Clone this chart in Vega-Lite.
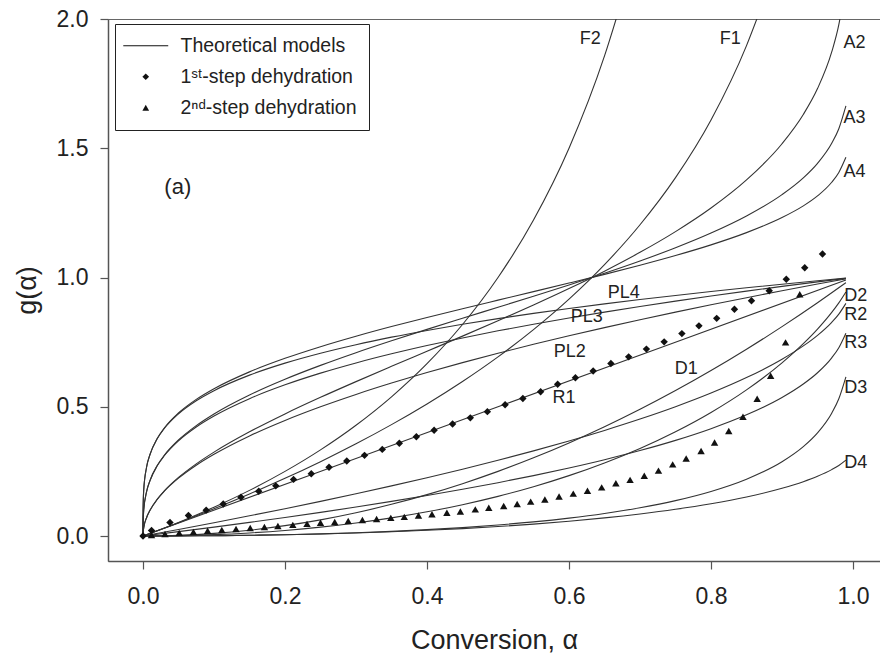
{
  "$schema": "https://vega.github.io/schema/vega-lite/v6.json",
  "width": 772,
  "height": 542,
  "autosize": "none",
  "padding": {"left": 108, "top": 19, "right": 0, "bottom": 93},
  "background": "white",
  "config": {
    "view": {"stroke": "#666", "strokeWidth": 1},
    "font": "Liberation Sans",
    "axis": {
      "labelFont": "Liberation Sans", "titleFont": "Liberation Sans",
      "labelColor": "#222", "titleColor": "#222",
      "domainColor": "#555", "domainWidth": 1.5,
      "tickColor": "#555", "tickWidth": 1.2, "tickSize": 8,
      "grid": false, "labelFontSize": 23, "titleFontWeight": "normal"
    }
  },
  "datasets": {
    "curves": [
      {"m":"F1","a":0,"g":0},{"m":"F1","a":0.05,"g":0.0513},{"m":"F1","a":0.1,"g":0.1054},{"m":"F1","a":0.15,"g":0.1625},{"m":"F1","a":0.2,"g":0.2231},{"m":"F1","a":0.25,"g":0.2877},{"m":"F1","a":0.3,"g":0.3567},{"m":"F1","a":0.35,"g":0.4308},{"m":"F1","a":0.4,"g":0.5108},{"m":"F1","a":0.45,"g":0.5978},{"m":"F1","a":0.5,"g":0.6931},{"m":"F1","a":0.55,"g":0.7985},{"m":"F1","a":0.6,"g":0.9163},{"m":"F1","a":0.65,"g":1.0498},{"m":"F1","a":0.7,"g":1.204},{"m":"F1","a":0.75,"g":1.3863},{"m":"F1","a":0.8,"g":1.6094},{"m":"F1","a":0.85,"g":1.8971},{"m":"F1","a":0.87,"g":2.0402},
      {"m":"F2","a":0,"g":0},{"m":"F2","a":0.05,"g":0.0526},{"m":"F2","a":0.1,"g":0.1111},{"m":"F2","a":0.15,"g":0.1765},{"m":"F2","a":0.2,"g":0.25},{"m":"F2","a":0.25,"g":0.3333},{"m":"F2","a":0.3,"g":0.4286},{"m":"F2","a":0.35,"g":0.5385},{"m":"F2","a":0.4,"g":0.6667},{"m":"F2","a":0.45,"g":0.8182},{"m":"F2","a":0.5,"g":1.0},{"m":"F2","a":0.55,"g":1.2222},{"m":"F2","a":0.6,"g":1.5},{"m":"F2","a":0.65,"g":1.8571},{"m":"F2","a":0.68,"g":2.125},
      {"m":"A2","a":0,"g":0},{"m":"A2","a":0.0001,"g":0.01},{"m":"A2","a":0.001,"g":0.0316},{"m":"A2","a":0.005,"g":0.0708},{"m":"A2","a":0.01,"g":0.1003},{"m":"A2","a":0.02,"g":0.1421},{"m":"A2","a":0.03,"g":0.1745},{"m":"A2","a":0.05,"g":0.2265},{"m":"A2","a":0.075,"g":0.2792},{"m":"A2","a":0.1,"g":0.3246},{"m":"A2","a":0.15,"g":0.4031},{"m":"A2","a":0.2,"g":0.4724},{"m":"A2","a":0.25,"g":0.5364},{"m":"A2","a":0.3,"g":0.5972},{"m":"A2","a":0.35,"g":0.6563},{"m":"A2","a":0.4,"g":0.7147},{"m":"A2","a":0.45,"g":0.7732},{"m":"A2","a":0.5,"g":0.8326},{"m":"A2","a":0.55,"g":0.8936},{"m":"A2","a":0.6,"g":0.9572},{"m":"A2","a":0.65,"g":1.0246},{"m":"A2","a":0.7,"g":1.0973},{"m":"A2","a":0.75,"g":1.1774},{"m":"A2","a":0.8,"g":1.2686},{"m":"A2","a":0.85,"g":1.3774},{"m":"A2","a":0.9,"g":1.5174},{"m":"A2","a":0.93,"g":1.6307},{"m":"A2","a":0.95,"g":1.7308},{"m":"A2","a":0.97,"g":1.8726},{"m":"A2","a":0.98,"g":1.9779},{"m":"A2","a":0.99,"g":2.146},
      {"m":"A3","a":0,"g":0},{"m":"A3","a":0.0001,"g":0.0464},{"m":"A3","a":0.001,"g":0.1},{"m":"A3","a":0.005,"g":0.1712},{"m":"A3","a":0.01,"g":0.2158},{"m":"A3","a":0.02,"g":0.2724},{"m":"A3","a":0.03,"g":0.3123},{"m":"A3","a":0.05,"g":0.3716},{"m":"A3","a":0.075,"g":0.4272},{"m":"A3","a":0.1,"g":0.4723},{"m":"A3","a":0.15,"g":0.5457},{"m":"A3","a":0.2,"g":0.6065},{"m":"A3","a":0.25,"g":0.6601},{"m":"A3","a":0.3,"g":0.7092},{"m":"A3","a":0.35,"g":0.7552},{"m":"A3","a":0.4,"g":0.7994},{"m":"A3","a":0.45,"g":0.8424},{"m":"A3","a":0.5,"g":0.885},{"m":"A3","a":0.55,"g":0.9277},{"m":"A3","a":0.6,"g":0.9713},{"m":"A3","a":0.65,"g":1.0163},{"m":"A3","a":0.7,"g":1.0638},{"m":"A3","a":0.75,"g":1.115},{"m":"A3","a":0.8,"g":1.1719},{"m":"A3","a":0.85,"g":1.2379},{"m":"A3","a":0.9,"g":1.3205},{"m":"A3","a":0.93,"g":1.3854},{"m":"A3","a":0.95,"g":1.4416},{"m":"A3","a":0.97,"g":1.5192},{"m":"A3","a":0.98,"g":1.5757},{"m":"A3","a":0.99,"g":1.6637},
      {"m":"A4","a":0,"g":0},{"m":"A4","a":0.0001,"g":0.1},{"m":"A4","a":0.001,"g":0.1779},{"m":"A4","a":0.005,"g":0.2661},{"m":"A4","a":0.01,"g":0.3166},{"m":"A4","a":0.02,"g":0.377},{"m":"A4","a":0.03,"g":0.4178},{"m":"A4","a":0.05,"g":0.4759},{"m":"A4","a":0.075,"g":0.5284},{"m":"A4","a":0.1,"g":0.5697},{"m":"A4","a":0.15,"g":0.6349},{"m":"A4","a":0.2,"g":0.6873},{"m":"A4","a":0.25,"g":0.7324},{"m":"A4","a":0.3,"g":0.7728},{"m":"A4","a":0.35,"g":0.8102},{"m":"A4","a":0.4,"g":0.8454},{"m":"A4","a":0.45,"g":0.8793},{"m":"A4","a":0.5,"g":0.9124},{"m":"A4","a":0.55,"g":0.9453},{"m":"A4","a":0.6,"g":0.9784},{"m":"A4","a":0.65,"g":1.0122},{"m":"A4","a":0.7,"g":1.0475},{"m":"A4","a":0.75,"g":1.0851},{"m":"A4","a":0.8,"g":1.1263},{"m":"A4","a":0.85,"g":1.1736},{"m":"A4","a":0.9,"g":1.2318},{"m":"A4","a":0.93,"g":1.277},{"m":"A4","a":0.95,"g":1.3156},{"m":"A4","a":0.97,"g":1.3684},{"m":"A4","a":0.98,"g":1.4064},{"m":"A4","a":0.99,"g":1.4649},
      {"m":"PL2","a":0,"g":0},{"m":"PL2","a":0.0001,"g":0.01},{"m":"PL2","a":0.001,"g":0.0316},{"m":"PL2","a":0.005,"g":0.0707},{"m":"PL2","a":0.01,"g":0.1},{"m":"PL2","a":0.02,"g":0.1414},{"m":"PL2","a":0.03,"g":0.1732},{"m":"PL2","a":0.05,"g":0.2236},{"m":"PL2","a":0.075,"g":0.2739},{"m":"PL2","a":0.1,"g":0.3162},{"m":"PL2","a":0.15,"g":0.3873},{"m":"PL2","a":0.2,"g":0.4472},{"m":"PL2","a":0.25,"g":0.5},{"m":"PL2","a":0.3,"g":0.5477},{"m":"PL2","a":0.35,"g":0.5916},{"m":"PL2","a":0.4,"g":0.6325},{"m":"PL2","a":0.45,"g":0.6708},{"m":"PL2","a":0.5,"g":0.7071},{"m":"PL2","a":0.55,"g":0.7416},{"m":"PL2","a":0.6,"g":0.7746},{"m":"PL2","a":0.65,"g":0.8062},{"m":"PL2","a":0.7,"g":0.8367},{"m":"PL2","a":0.75,"g":0.866},{"m":"PL2","a":0.8,"g":0.8944},{"m":"PL2","a":0.85,"g":0.922},{"m":"PL2","a":0.9,"g":0.9487},{"m":"PL2","a":0.95,"g":0.9747},{"m":"PL2","a":0.99,"g":0.995},
      {"m":"PL3","a":0,"g":0},{"m":"PL3","a":0.0001,"g":0.0464},{"m":"PL3","a":0.001,"g":0.1},{"m":"PL3","a":0.005,"g":0.171},{"m":"PL3","a":0.01,"g":0.2154},{"m":"PL3","a":0.02,"g":0.2714},{"m":"PL3","a":0.03,"g":0.3107},{"m":"PL3","a":0.05,"g":0.3684},{"m":"PL3","a":0.075,"g":0.4217},{"m":"PL3","a":0.1,"g":0.4642},{"m":"PL3","a":0.15,"g":0.5313},{"m":"PL3","a":0.2,"g":0.5848},{"m":"PL3","a":0.25,"g":0.63},{"m":"PL3","a":0.3,"g":0.6694},{"m":"PL3","a":0.35,"g":0.7047},{"m":"PL3","a":0.4,"g":0.7368},{"m":"PL3","a":0.45,"g":0.7663},{"m":"PL3","a":0.5,"g":0.7937},{"m":"PL3","a":0.55,"g":0.8193},{"m":"PL3","a":0.6,"g":0.8434},{"m":"PL3","a":0.65,"g":0.8662},{"m":"PL3","a":0.7,"g":0.8879},{"m":"PL3","a":0.75,"g":0.9086},{"m":"PL3","a":0.8,"g":0.9283},{"m":"PL3","a":0.85,"g":0.9473},{"m":"PL3","a":0.9,"g":0.9655},{"m":"PL3","a":0.95,"g":0.9831},{"m":"PL3","a":0.99,"g":0.9967},
      {"m":"PL4","a":0,"g":0},{"m":"PL4","a":0.0001,"g":0.1},{"m":"PL4","a":0.001,"g":0.1778},{"m":"PL4","a":0.005,"g":0.2659},{"m":"PL4","a":0.01,"g":0.3162},{"m":"PL4","a":0.02,"g":0.3761},{"m":"PL4","a":0.03,"g":0.4162},{"m":"PL4","a":0.05,"g":0.4729},{"m":"PL4","a":0.075,"g":0.5233},{"m":"PL4","a":0.1,"g":0.5623},{"m":"PL4","a":0.15,"g":0.6223},{"m":"PL4","a":0.2,"g":0.6687},{"m":"PL4","a":0.25,"g":0.7071},{"m":"PL4","a":0.3,"g":0.7401},{"m":"PL4","a":0.35,"g":0.7692},{"m":"PL4","a":0.4,"g":0.7953},{"m":"PL4","a":0.45,"g":0.819},{"m":"PL4","a":0.5,"g":0.8409},{"m":"PL4","a":0.55,"g":0.8612},{"m":"PL4","a":0.6,"g":0.8801},{"m":"PL4","a":0.65,"g":0.8979},{"m":"PL4","a":0.7,"g":0.9147},{"m":"PL4","a":0.75,"g":0.9306},{"m":"PL4","a":0.8,"g":0.9457},{"m":"PL4","a":0.85,"g":0.9602},{"m":"PL4","a":0.9,"g":0.974},{"m":"PL4","a":0.95,"g":0.9873},{"m":"PL4","a":0.99,"g":0.9975},
      {"m":"R1","a":0,"g":0},{"m":"R1","a":0.5,"g":0.5},{"m":"R1","a":0.99,"g":0.99},
      {"m":"R2","a":0,"g":0},{"m":"R2","a":0.05,"g":0.0253},{"m":"R2","a":0.1,"g":0.0513},{"m":"R2","a":0.15,"g":0.0781},{"m":"R2","a":0.2,"g":0.1056},{"m":"R2","a":0.25,"g":0.134},{"m":"R2","a":0.3,"g":0.1633},{"m":"R2","a":0.35,"g":0.1938},{"m":"R2","a":0.4,"g":0.2254},{"m":"R2","a":0.45,"g":0.2584},{"m":"R2","a":0.5,"g":0.2929},{"m":"R2","a":0.55,"g":0.3292},{"m":"R2","a":0.6,"g":0.3675},{"m":"R2","a":0.65,"g":0.4084},{"m":"R2","a":0.7,"g":0.4523},{"m":"R2","a":0.75,"g":0.5},{"m":"R2","a":0.8,"g":0.5528},{"m":"R2","a":0.85,"g":0.6127},{"m":"R2","a":0.9,"g":0.6838},{"m":"R2","a":0.93,"g":0.7354},{"m":"R2","a":0.95,"g":0.7764},{"m":"R2","a":0.97,"g":0.8268},{"m":"R2","a":0.98,"g":0.8586},{"m":"R2","a":0.99,"g":0.9},
      {"m":"R3","a":0,"g":0},{"m":"R3","a":0.05,"g":0.017},{"m":"R3","a":0.1,"g":0.0345},{"m":"R3","a":0.15,"g":0.0527},{"m":"R3","a":0.2,"g":0.0717},{"m":"R3","a":0.25,"g":0.0914},{"m":"R3","a":0.3,"g":0.1121},{"m":"R3","a":0.35,"g":0.1338},{"m":"R3","a":0.4,"g":0.1566},{"m":"R3","a":0.45,"g":0.1807},{"m":"R3","a":0.5,"g":0.2063},{"m":"R3","a":0.55,"g":0.2337},{"m":"R3","a":0.6,"g":0.2632},{"m":"R3","a":0.65,"g":0.2953},{"m":"R3","a":0.7,"g":0.3306},{"m":"R3","a":0.75,"g":0.37},{"m":"R3","a":0.8,"g":0.4152},{"m":"R3","a":0.85,"g":0.4687},{"m":"R3","a":0.9,"g":0.5358},{"m":"R3","a":0.93,"g":0.5879},{"m":"R3","a":0.95,"g":0.6316},{"m":"R3","a":0.97,"g":0.6893},{"m":"R3","a":0.98,"g":0.7286},{"m":"R3","a":0.99,"g":0.7846},
      {"m":"D1","a":0,"g":0},{"m":"D1","a":0.05,"g":0.0025},{"m":"D1","a":0.1,"g":0.01},{"m":"D1","a":0.15,"g":0.0225},{"m":"D1","a":0.2,"g":0.04},{"m":"D1","a":0.25,"g":0.0625},{"m":"D1","a":0.3,"g":0.09},{"m":"D1","a":0.35,"g":0.1225},{"m":"D1","a":0.4,"g":0.16},{"m":"D1","a":0.45,"g":0.2025},{"m":"D1","a":0.5,"g":0.25},{"m":"D1","a":0.55,"g":0.3025},{"m":"D1","a":0.6,"g":0.36},{"m":"D1","a":0.65,"g":0.4225},{"m":"D1","a":0.7,"g":0.49},{"m":"D1","a":0.75,"g":0.5625},{"m":"D1","a":0.8,"g":0.64},{"m":"D1","a":0.85,"g":0.7225},{"m":"D1","a":0.9,"g":0.81},{"m":"D1","a":0.95,"g":0.9025},{"m":"D1","a":0.99,"g":0.9801},
      {"m":"D2","a":0,"g":0},{"m":"D2","a":0.05,"g":0.0013},{"m":"D2","a":0.1,"g":0.0052},{"m":"D2","a":0.15,"g":0.0119},{"m":"D2","a":0.2,"g":0.0215},{"m":"D2","a":0.25,"g":0.0342},{"m":"D2","a":0.3,"g":0.0503},{"m":"D2","a":0.35,"g":0.07},{"m":"D2","a":0.4,"g":0.0935},{"m":"D2","a":0.45,"g":0.1212},{"m":"D2","a":0.5,"g":0.1534},{"m":"D2","a":0.55,"g":0.1907},{"m":"D2","a":0.6,"g":0.2335},{"m":"D2","a":0.65,"g":0.2826},{"m":"D2","a":0.7,"g":0.3388},{"m":"D2","a":0.75,"g":0.4034},{"m":"D2","a":0.8,"g":0.4781},{"m":"D2","a":0.85,"g":0.5654},{"m":"D2","a":0.9,"g":0.6697},{"m":"D2","a":0.93,"g":0.7439},{"m":"D2","a":0.95,"g":0.8002},{"m":"D2","a":0.97,"g":0.8648},{"m":"D2","a":0.98,"g":0.9018},{"m":"D2","a":0.99,"g":0.9439},
      {"m":"D3","a":0,"g":0},{"m":"D3","a":0.05,"g":0.0003},{"m":"D3","a":0.1,"g":0.0012},{"m":"D3","a":0.15,"g":0.0028},{"m":"D3","a":0.2,"g":0.0051},{"m":"D3","a":0.25,"g":0.0084},{"m":"D3","a":0.3,"g":0.0126},{"m":"D3","a":0.35,"g":0.0179},{"m":"D3","a":0.4,"g":0.0245},{"m":"D3","a":0.45,"g":0.0326},{"m":"D3","a":0.5,"g":0.0426},{"m":"D3","a":0.55,"g":0.0546},{"m":"D3","a":0.6,"g":0.0693},{"m":"D3","a":0.65,"g":0.0872},{"m":"D3","a":0.7,"g":0.1093},{"m":"D3","a":0.75,"g":0.1369},{"m":"D3","a":0.8,"g":0.1724},{"m":"D3","a":0.85,"g":0.2197},{"m":"D3","a":0.9,"g":0.2871},{"m":"D3","a":0.93,"g":0.3456},{"m":"D3","a":0.95,"g":0.3989},{"m":"D3","a":0.97,"g":0.4751},{"m":"D3","a":0.98,"g":0.5308},{"m":"D3","a":0.99,"g":0.6155},
      {"m":"D4","a":0,"g":0},{"m":"D4","a":0.05,"g":0.0003},{"m":"D4","a":0.1,"g":0.0012},{"m":"D4","a":0.15,"g":0.0027},{"m":"D4","a":0.2,"g":0.0049},{"m":"D4","a":0.25,"g":0.0079},{"m":"D4","a":0.3,"g":0.0116},{"m":"D4","a":0.35,"g":0.0163},{"m":"D4","a":0.4,"g":0.022},{"m":"D4","a":0.45,"g":0.0287},{"m":"D4","a":0.5,"g":0.0367},{"m":"D4","a":0.55,"g":0.0461},{"m":"D4","a":0.6,"g":0.0571},{"m":"D4","a":0.65,"g":0.07},{"m":"D4","a":0.7,"g":0.0852},{"m":"D4","a":0.75,"g":0.1032},{"m":"D4","a":0.8,"g":0.1247},{"m":"D4","a":0.85,"g":0.151},{"m":"D4","a":0.9,"g":0.1846},{"m":"D4","a":0.93,"g":0.2101},{"m":"D4","a":0.95,"g":0.2309},{"m":"D4","a":0.97,"g":0.2568},{"m":"D4","a":0.98,"g":0.273},{"m":"D4","a":0.99,"g":0.2936}
    ],
    "pts": [
      {"s":"1ˢᵗ-step dehydration","a":0,"g":0},{"s":"1ˢᵗ-step dehydration","a":0.012,"g":0.021},{"s":"1ˢᵗ-step dehydration","a":0.038,"g":0.052},{"s":"1ˢᵗ-step dehydration","a":0.064,"g":0.079},{"s":"1ˢᵗ-step dehydration","a":0.089,"g":0.1},{"s":"1ˢᵗ-step dehydration","a":0.113,"g":0.124},{"s":"1ˢᵗ-step dehydration","a":0.138,"g":0.15},{"s":"1ˢᵗ-step dehydration","a":0.163,"g":0.173},{"s":"1ˢᵗ-step dehydration","a":0.187,"g":0.194},{"s":"1ˢᵗ-step dehydration","a":0.212,"g":0.219},{"s":"1ˢᵗ-step dehydration","a":0.237,"g":0.241},{"s":"1ˢᵗ-step dehydration","a":0.262,"g":0.266},{"s":"1ˢᵗ-step dehydration","a":0.287,"g":0.29},{"s":"1ˢᵗ-step dehydration","a":0.312,"g":0.312},{"s":"1ˢᵗ-step dehydration","a":0.337,"g":0.335},{"s":"1ˢᵗ-step dehydration","a":0.361,"g":0.359},{"s":"1ˢᵗ-step dehydration","a":0.385,"g":0.384},{"s":"1ˢᵗ-step dehydration","a":0.41,"g":0.409},{"s":"1ˢᵗ-step dehydration","a":0.436,"g":0.433},{"s":"1ˢᵗ-step dehydration","a":0.461,"g":0.457},{"s":"1ˢᵗ-step dehydration","a":0.485,"g":0.481},{"s":"1ˢᵗ-step dehydration","a":0.51,"g":0.508},{"s":"1ˢᵗ-step dehydration","a":0.535,"g":0.532},{"s":"1ˢᵗ-step dehydration","a":0.56,"g":0.558},{"s":"1ˢᵗ-step dehydration","a":0.584,"g":0.587},{"s":"1ˢᵗ-step dehydration","a":0.609,"g":0.612},{"s":"1ˢᵗ-step dehydration","a":0.634,"g":0.638},{"s":"1ˢᵗ-step dehydration","a":0.659,"g":0.667},{"s":"1ˢᵗ-step dehydration","a":0.684,"g":0.693},{"s":"1ˢᵗ-step dehydration","a":0.709,"g":0.723},{"s":"1ˢᵗ-step dehydration","a":0.734,"g":0.751},{"s":"1ˢᵗ-step dehydration","a":0.759,"g":0.783},{"s":"1ˢᵗ-step dehydration","a":0.783,"g":0.813},{"s":"1ˢᵗ-step dehydration","a":0.808,"g":0.842},{"s":"1ˢᵗ-step dehydration","a":0.833,"g":0.877},{"s":"1ˢᵗ-step dehydration","a":0.857,"g":0.91},{"s":"1ˢᵗ-step dehydration","a":0.882,"g":0.949},{"s":"1ˢᵗ-step dehydration","a":0.906,"g":0.993},{"s":"1ˢᵗ-step dehydration","a":0.932,"g":1.038},{"s":"1ˢᵗ-step dehydration","a":0.957,"g":1.091},
      {"s":"2ⁿᵈ-step dehydration","a":0.012,"g":0.004},{"s":"2ⁿᵈ-step dehydration","a":0.031,"g":0.008},{"s":"2ⁿᵈ-step dehydration","a":0.051,"g":0.012},{"s":"2ⁿᵈ-step dehydration","a":0.071,"g":0.016},{"s":"2ⁿᵈ-step dehydration","a":0.091,"g":0.02},{"s":"2ⁿᵈ-step dehydration","a":0.111,"g":0.023},{"s":"2ⁿᵈ-step dehydration","a":0.131,"g":0.027},{"s":"2ⁿᵈ-step dehydration","a":0.151,"g":0.031},{"s":"2ⁿᵈ-step dehydration","a":0.171,"g":0.035},{"s":"2ⁿᵈ-step dehydration","a":0.19,"g":0.039},{"s":"2ⁿᵈ-step dehydration","a":0.211,"g":0.043},{"s":"2ⁿᵈ-step dehydration","a":0.231,"g":0.047},{"s":"2ⁿᵈ-step dehydration","a":0.25,"g":0.051},{"s":"2ⁿᵈ-step dehydration","a":0.27,"g":0.054},{"s":"2ⁿᵈ-step dehydration","a":0.289,"g":0.058},{"s":"2ⁿᵈ-step dehydration","a":0.309,"g":0.062},{"s":"2ⁿᵈ-step dehydration","a":0.329,"g":0.066},{"s":"2ⁿᵈ-step dehydration","a":0.349,"g":0.07},{"s":"2ⁿᵈ-step dehydration","a":0.368,"g":0.074},{"s":"2ⁿᵈ-step dehydration","a":0.388,"g":0.079},{"s":"2ⁿᵈ-step dehydration","a":0.407,"g":0.084},{"s":"2ⁿᵈ-step dehydration","a":0.428,"g":0.09},{"s":"2ⁿᵈ-step dehydration","a":0.447,"g":0.095},{"s":"2ⁿᵈ-step dehydration","a":0.468,"g":0.103},{"s":"2ⁿᵈ-step dehydration","a":0.487,"g":0.109},{"s":"2ⁿᵈ-step dehydration","a":0.508,"g":0.116},{"s":"2ⁿᵈ-step dehydration","a":0.527,"g":0.124},{"s":"2ⁿᵈ-step dehydration","a":0.546,"g":0.133},{"s":"2ⁿᵈ-step dehydration","a":0.566,"g":0.141},{"s":"2ⁿᵈ-step dehydration","a":0.586,"g":0.153},{"s":"2ⁿᵈ-step dehydration","a":0.606,"g":0.164},{"s":"2ⁿᵈ-step dehydration","a":0.626,"g":0.175},{"s":"2ⁿᵈ-step dehydration","a":0.646,"g":0.188},{"s":"2ⁿᵈ-step dehydration","a":0.666,"g":0.204},{"s":"2ⁿᵈ-step dehydration","a":0.686,"g":0.217},{"s":"2ⁿᵈ-step dehydration","a":0.706,"g":0.233},{"s":"2ⁿᵈ-step dehydration","a":0.726,"g":0.253},{"s":"2ⁿᵈ-step dehydration","a":0.746,"g":0.277},{"s":"2ⁿᵈ-step dehydration","a":0.765,"g":0.3},{"s":"2ⁿᵈ-step dehydration","a":0.786,"g":0.329},{"s":"2ⁿᵈ-step dehydration","a":0.805,"g":0.362},{"s":"2ⁿᵈ-step dehydration","a":0.825,"g":0.406},{"s":"2ⁿᵈ-step dehydration","a":0.845,"g":0.461},{"s":"2ⁿᵈ-step dehydration","a":0.865,"g":0.531},{"s":"2ⁿᵈ-step dehydration","a":0.884,"g":0.62},{"s":"2ⁿᵈ-step dehydration","a":0.905,"g":0.749},{"s":"2ⁿᵈ-step dehydration","a":0.925,"g":0.935}
    ],
    "labels": [
      {"t":"F2","a":0.63,"g":1.923},{"t":"F1","a":0.827,"g":1.923},{"t":"A2","a":1.002,"g":1.906},{"t":"A3","a":1.002,"g":1.616},{"t":"A4","a":1.002,"g":1.409},
      {"t":"PL4","a":0.677,"g":0.939},{"t":"PL3","a":0.625,"g":0.848},{"t":"PL2","a":0.601,"g":0.713},{"t":"R1","a":0.593,"g":0.533},{"t":"D1","a":0.765,"g":0.645},
      {"t":"D2","a":1.004,"g":0.93},{"t":"R2","a":1.004,"g":0.856},{"t":"R3","a":1.004,"g":0.746},{"t":"D3","a":1.004,"g":0.571},{"t":"D4","a":1.004,"g":0.284}
    ]
  },
  "encoding": {
    "x": {"field": "a", "type": "quantitative",
      "scale": {"domain": [-0.0493, 1.038], "nice": false, "zero": false},
      "axis": {"values": [0, 0.2, 0.4, 0.6, 0.8, 1.0], "format": ".1f", "labelPadding": 16,
        "title": "Conversion, α", "titleFontSize": 27, "titleBaseline": "alphabetic", "titleY": 87}},
    "y": {"field": "g", "type": "quantitative",
      "scale": {"domain": [-0.0967, 2.0], "nice": false, "zero": false},
      "axis": {"values": [0, 0.5, 1.0, 1.5, 2.0], "format": ".1f", "labelPadding": 12,
        "title": "g(α)", "titleFontSize": 27, "titleX": -81, "titleY": 271, "titleAngle": -90,
        "titleAlign": "center", "titleBaseline": "middle"}}
  },
  "layer": [
    {
      "data": {"name": "curves"},
      "mark": {"type": "line", "clip": true, "stroke": "#333", "strokeWidth": 1.1, "interpolate": "monotone"},
      "encoding": {"detail": {"field": "m"}}
    },
    {
      "data": {"name": "pts"},
      "mark": {"type": "point", "filled": true, "color": "#111", "opacity": 1, "size": 55},
      "encoding": {
        "shape": {"field": "s", "type": "nominal",
          "scale": {"domain": ["Theoretical models", "1ˢᵗ-step dehydration", "2ⁿᵈ-step dehydration"],
                    "range": ["M-6.7,-0.16H6.7V0.16H-6.7Z", "diamond", "triangle-up"]},
          "legend": {"title": null, "orient": "none", "legendX": 7, "legendY": 5,
            "strokeColor": "#222", "fillColor": "white", "padding": 12,
            "labelFontSize": 19.5, "labelFont": "Liberation Sans", "labelColor": "#222", "labelLimit": 400,
            "symbolFillColor": "#111", "symbolStrokeColor": "#111", "symbolStrokeWidth": 0.6,
            "symbolSize": 45, "symbolOffset": 9, "labelOffset": 25, "rowPadding": 10,
            "encode": {"symbols": {"update": {"fill": {"value": "#111"}, "fillOpacity": {"value": 1}, "opacity": {"value": 1}}}}}}
      }
    },
    {
      "data": {"name": "labels"},
      "mark": {"type": "text", "fontSize": 18, "font": "Liberation Sans", "color": "#222", "align": "center", "baseline": "middle"},
      "encoding": {"text": {"field": "t"}}
    },
    {
      "data": {"values": [{"t": "(a)", "a": 0.049, "g": 1.35}]},
      "mark": {"type": "text", "fontSize": 22, "font": "Liberation Sans", "color": "#222", "align": "center", "baseline": "middle"},
      "encoding": {"text": {"field": "t"}}
    }
  ]
}
